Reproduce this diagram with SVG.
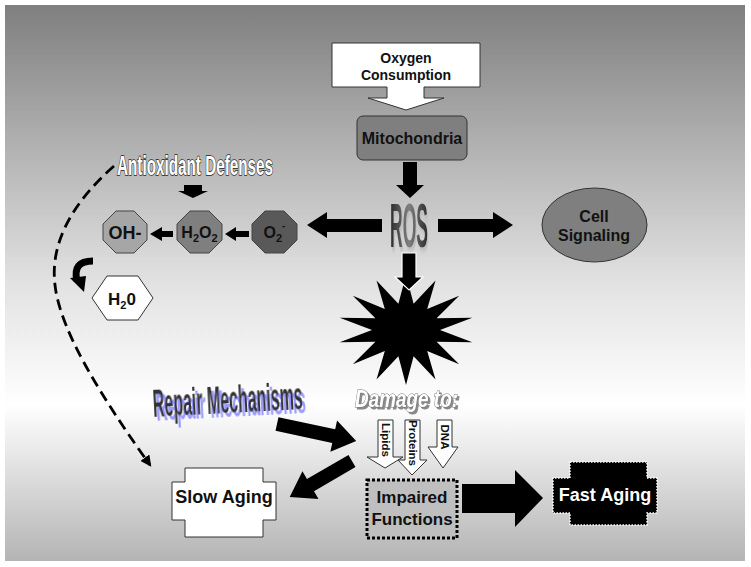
<svg xmlns="http://www.w3.org/2000/svg" width="751" height="567" viewBox="0 0 751 567">
  <defs>
    <linearGradient id="bg" x1="0" y1="0" x2="0" y2="1">
      <stop offset="0" stop-color="#7f7f7f"/>
      <stop offset="0.5" stop-color="#e2e2e2"/>
      <stop offset="0.72" stop-color="#ffffff"/>
      <stop offset="1" stop-color="#b4b4b4"/>
    </linearGradient>
    <linearGradient id="rosg" x1="0" y1="0" x2="1" y2="0">
      <stop offset="0" stop-color="#2a2a2a"/>
      <stop offset="0.5" stop-color="#808080"/>
      <stop offset="1" stop-color="#2a2a2a"/>
    </linearGradient>
    <filter id="rosShadow" x="-20%" y="-20%" width="160%" height="160%">
      <feDropShadow dx="2" dy="2" stdDeviation="1" flood-color="#bbbbbb" flood-opacity="0.9"/>
    </filter>
    <filter id="purpleShadow" x="-10%" y="-30%" width="130%" height="180%">
      <feDropShadow dx="3" dy="4" stdDeviation="0.6" flood-color="#9a9aff" flood-opacity="1"/>
    </filter>
    <filter id="grayShadow" x="-10%" y="-30%" width="130%" height="180%">
      <feDropShadow dx="2" dy="2" stdDeviation="0.5" flood-color="#888888" flood-opacity="1"/>
    </filter>
    <marker id="dashHead" viewBox="0 0 10 10" refX="8" refY="5" markerWidth="4" markerHeight="4" orient="auto" markerUnits="strokeWidth">
      <path d="M0,0 L10,5 L0,10 Z" fill="#000"/>
    </marker>
    <style>
      text { font-family: "Liberation Sans", Arial, sans-serif; font-weight: bold; }
      .lbl { font-size: 16px; fill: #111; text-anchor: middle; }
      .blk { fill: #000; }
      .oct { stroke: #444; stroke-width: 1; }
      .wbox { fill: #fff; stroke: #333; stroke-width: 1; }
      .small { font-size: 11.5px; fill: #111; text-anchor: middle; }
    </style>
  </defs>

  <rect x="5" y="5" width="740" height="556" fill="url(#bg)"/>

  <g id="oxygen-consumption">
    <path class="wbox" d="M332,43 H480 V87 H424 V98 H444 L406,110 L368,98 H387 V87 H332 Z"/>
    <text class="lbl" x="406" y="63" style="font-size:14px">Oxygen</text>
    <text class="lbl" x="406" y="80" style="font-size:14px">Consumption</text>
  </g>

  <g id="mitochondria">
    <rect x="357" y="116" width="110" height="44" rx="6" fill="#7f7f7f" stroke="#333" stroke-width="1"/>
    <text class="lbl" x="412" y="144">Mitochondria</text>
  </g>

  <g id="ros">
    <text x="0" y="0" transform="translate(409,247) scale(0.55,1.95)" text-anchor="middle" style="font-size:32px" fill="url(#rosg)" filter="url(#rosShadow)">ROS</text>
  </g>

  <g id="cell-signaling">
    <ellipse cx="594.5" cy="225" rx="52.5" ry="37" fill="#7f7f7f" stroke="#333" stroke-width="1"/>
    <text class="lbl" x="594" y="222">Cell</text>
    <text class="lbl" x="594" y="241">Signaling</text>
  </g>

  <g id="antioxidant-defenses">
    <text x="117" y="175" textLength="156" lengthAdjust="spacingAndGlyphs" style="font-size:27px" fill="#fff" stroke="#222" stroke-width="1.5" paint-order="stroke">Antioxidant Defenses</text>
  </g>

  <g id="oh">
    <polygon class="oct" fill="#a6a6a6" points="116,211 134,211 147,224 147,240 134,253 116,253 103,240 103,224"/>
    <text class="lbl" x="125" y="239" style="font-size:18px">OH-</text>
  </g>

  <g id="h2o2">
    <polygon class="oct" fill="#7f7f7f" points="190,211 209,211 222,224 222,240 209,253 190,253 177,240 177,224"/>
    <text class="lbl" x="199.5" y="238" style="font-size:16px">H<tspan style="font-size:11px" dy="4">2</tspan><tspan dy="-4">O</tspan><tspan style="font-size:11px" dy="4">2</tspan></text>
  </g>

  <g id="o2">
    <polygon class="oct" fill="#595959" points="265,211 284,211 297,224 297,240 284,253 265,253 252,240 252,224"/>
    <text class="lbl" x="274.5" y="238" style="font-size:16px">O<tspan style="font-size:11px" dy="4">2</tspan><tspan style="font-size:10px" dy="-13">-</tspan></text>
  </g>

  <g id="h2o">
    <polygon class="wbox" points="92,298 107,276 138,276 153,298 138,320 107,320"/>
    <text class="lbl" x="122" y="305" style="font-size:17px">H<tspan style="font-size:11px" dy="4">2</tspan><tspan dy="-4">0</tspan></text>
  </g>

  <g id="damage-star">
    <polygon fill="#000" points="406,275 413.6,303.7 435.5,280.4 427.2,308.9 459.2,295.7 436.6,318.3 472.3,317.7 440,330 472.3,342.3 436.6,341.7 459.2,364.3 427.2,351.1 435.5,379.6 413.6,356.3 406,385 398.4,356.3 376.5,379.6 384.8,351.1 352.8,364.3 375.4,341.7 339.7,342.3 372,330 339.7,317.7 375.4,318.3 352.8,295.7 384.8,308.9 376.5,280.4 398.4,303.7"/>
  </g>

  <g id="repair-mechanisms">
    <text x="153" y="413" transform="rotate(-3 228 405)" textLength="150" lengthAdjust="spacingAndGlyphs" style="font-size:39px" fill="#333" filter="url(#purpleShadow)">Repair Mechanisms</text>
  </g>

  <g id="damage-to">
    <text x="355" y="407" textLength="103" lengthAdjust="spacingAndGlyphs" style="font-size:23px;font-style:italic" fill="#fff" stroke="#777" stroke-width="1" paint-order="stroke" filter="url(#grayShadow)">Damage to:</text>
  </g>

  <g id="lipids">
    <path class="wbox" d="M378,420 H393 V457 H403 L385,468 L367,457 H378 Z"/>
    <text class="small" transform="translate(385.5,440) rotate(90)" x="0" y="4">Lipids</text>
  </g>

  <g id="proteins">
    <path class="wbox" d="M405,420 H420 V460 H427 L412,475 L398,460 H405 Z"/>
    <text class="small" transform="translate(412.5,443) rotate(90)" x="0" y="4">Proteins</text>
  </g>

  <g id="dna">
    <path class="wbox" d="M437,420 H452 V447 H458 L443,468 L428,447 H437 Z"/>
    <text class="small" transform="translate(444.5,437) rotate(90)" x="0" y="4">DNA</text>
  </g>

  <g id="impaired-functions">
    <rect x="367" y="480" width="90" height="58" fill="#bfbfbf" stroke="#000" stroke-width="3" stroke-dasharray="3 2"/>
    <text class="lbl" x="412" y="503" style="font-size:17px">Impaired</text>
    <text class="lbl" x="412" y="525" style="font-size:17px">Functions</text>
  </g>

  <g id="slow-aging">
    <path class="wbox" d="M185,468 H263 V482 H276 V520 H263 V537 H185 V520 H172 V482 H185 Z"/>
    <text class="lbl" x="224" y="503" style="font-size:18px">Slow Aging</text>
  </g>

  <g id="fast-aging">
    <path d="M570,462 H647 V478 H657 V513 H647 V525 H570 V513 H553 V478 H570 Z" fill="#000" stroke="#fff" stroke-width="1.5" stroke-dasharray="1.5 1.5"/>
    <text x="605" y="501" text-anchor="middle" style="font-size:18px" fill="#fff">Fast Aging</text>
  </g>

  <g id="connectors">
    <path class="blk" d="M403,162 H417 V185 H424 L410,198 L396,185 H403 Z"/>
    <path class="blk" d="M382,219 V232 H327 V238 L307,225 L327,212 V219 Z"/>
    <path class="blk" d="M438,219 H493 V212 L513,225 L493,238 V232 H438 Z"/>
    <path class="blk" d="M402,253 H416 V277 H423 L409,290 L395,277 H402 Z" stroke="#fff" stroke-width="1.2"/>
    <path class="blk" d="M184,185 H202 V191 H208 L193,198 L178,191 H184 Z"/>
    <path class="blk" d="M173,231 V237 H162 V241 L150,234 L162,227 V231 Z"/>
    <path class="blk" d="M249,231 V237 H236 V241 L225,234 L236,227 V231 Z"/>
    <path d="M93,261 Q72,261 77,281" fill="none" stroke="#000" stroke-width="7"/>
    <polygon class="blk" points="70,278 86,276 84,292"/>
    <path d="M114,166 C70,205 50,245 55,285 C60,330 100,395 150,465" fill="none" stroke="#000" stroke-width="2.8" stroke-dasharray="11 6" marker-end="url(#dashHead)"/>
    <polygon class="blk" transform="translate(277,424) rotate(12.1)" points="0,-7 58,-7 58,-16 81,0 58,16 58,7 0,7"/>
    <polygon class="blk" transform="translate(352,461) rotate(149.9)" points="0,-7 48,-7 48,-16 72,0 48,16 48,7 0,7"/>
    <path class="blk" d="M462,484 H515 V470 L543,498 L515,527 V513 H462 Z"/>
  </g>
</svg>
